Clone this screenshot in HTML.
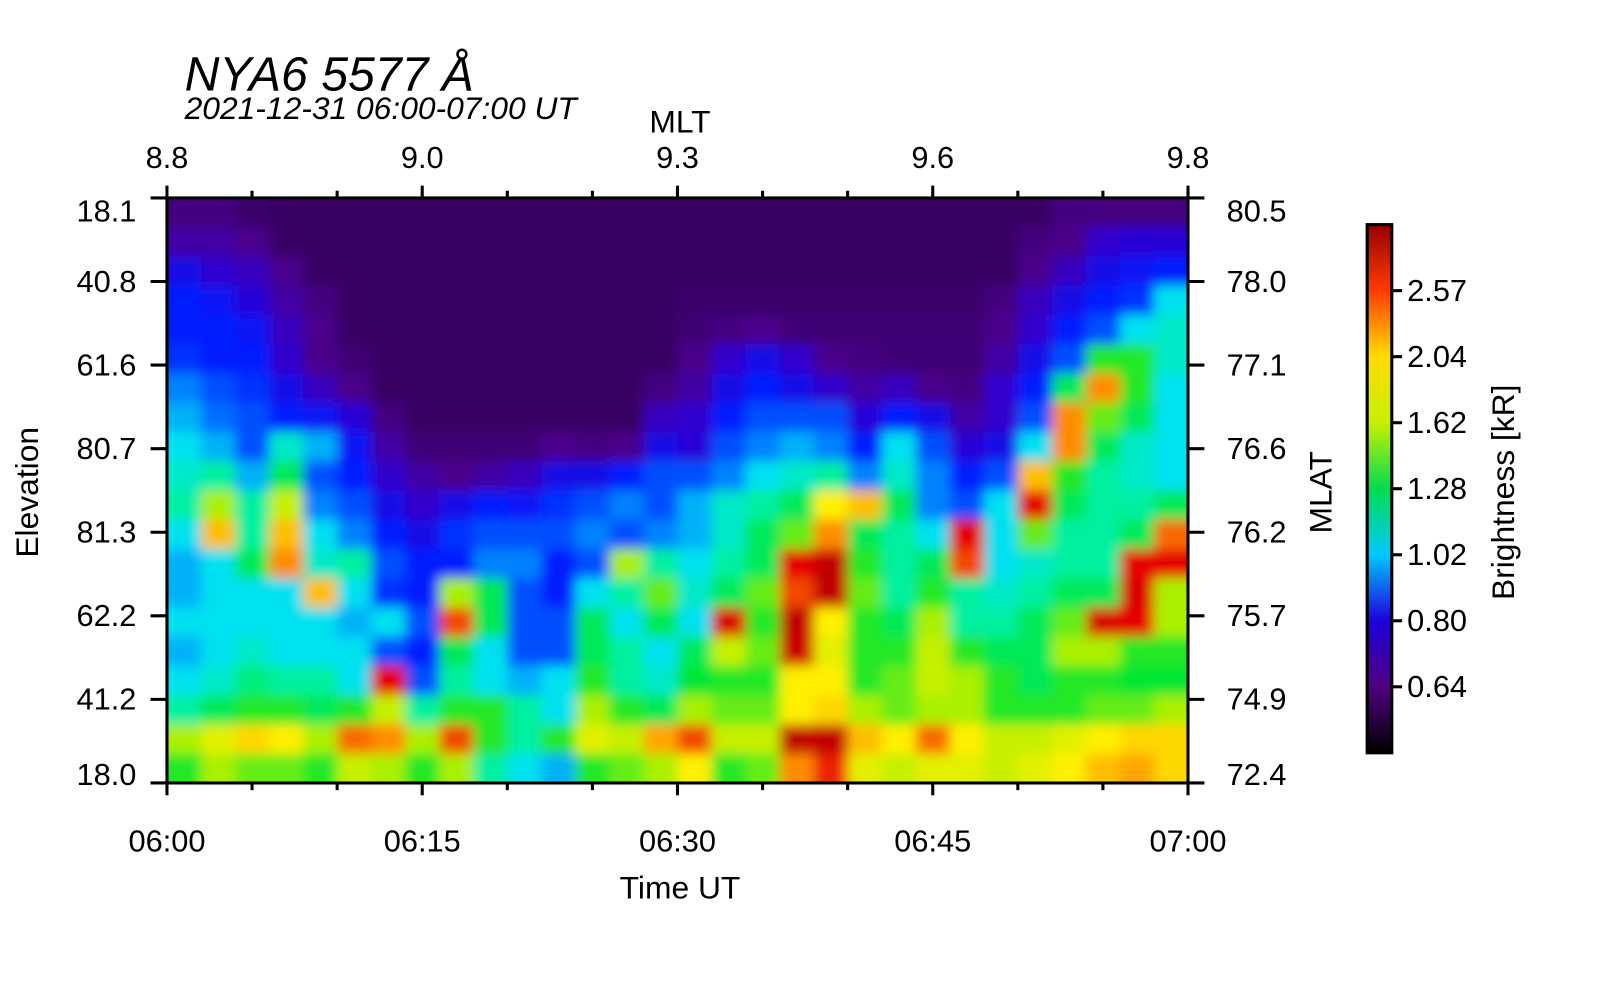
<!DOCTYPE html>
<html><head><meta charset="utf-8"><style>
body{margin:0;background:#fff;width:1600px;height:1000px;overflow:hidden}
svg text{font-family:"Liberation Sans",sans-serif;fill:#000}
</style></head><body>
<svg id="chart" width="1600" height="1000" xmlns="http://www.w3.org/2000/svg">
<defs>
<clipPath id="pc"><rect x="162.8" y="193" width="995.5" height="570.4"/></clipPath>
<filter id="bl" x="-5%" y="-5%" width="110%" height="110%"><feGaussianBlur stdDeviation="6"/></filter>
<linearGradient id="cbg" x1="0" y1="1" x2="0" y2="0">
<stop offset="0" stop-color="#000"/><stop offset="0.125" stop-color="#500080"/><stop offset="0.25" stop-color="#1e00dc"/><stop offset="0.375" stop-color="#00c8ff"/><stop offset="0.5" stop-color="#00dc50"/><stop offset="0.625" stop-color="#c8f000"/><stop offset="0.75" stop-color="#ffdc00"/><stop offset="0.875" stop-color="#ff3c00"/><stop offset="1" stop-color="#960000"/>
</linearGradient>
</defs>
<g transform="scale(1.02564)">
<text x="180" y="88" font-size="47" font-style="italic">NYA6 5577 Å</text>
<text x="180" y="116" font-size="31" font-style="italic">2021-12-31 06:00-07:00 UT</text>
<text x="663" y="129" font-size="31" text-anchor="middle">MLT</text>
<text x="663" y="876" font-size="31" text-anchor="middle">Time UT</text>
<text transform="translate(37,480) rotate(-90)" font-size="31" text-anchor="middle">Elevation</text>
<text transform="translate(1298,480) rotate(-90)" font-size="31" text-anchor="middle">MLAT</text>
<text transform="translate(1476,480) rotate(-90)" font-size="31" text-anchor="middle">Brightness [kR]</text>
<g id="heat" clip-path="url(#pc)"><g id="cells" filter="url(#bl)"></g></g>
<rect x="162.8" y="193" width="995.5" height="570.4" fill="none" stroke="#000" stroke-width="3"/>
<g id="axes"></g>
<rect x="1333" y="219" width="24" height="515" fill="url(#cbg)" stroke="#000" stroke-width="3"/>
<g id="cbticks"></g>
</g>
</svg>
<script>
const timeLabels=["06:00","06:15","06:30","06:45","07:00"];
const mltLabels=["8.8","9.0","9.3","9.6","9.8"];
const elevLabels=["18.1","40.8","61.6","80.7","81.3","62.2","41.2","18.0"];
const mlatLabels=["80.5","78.0","77.1","76.6","76.2","75.7","74.9","72.4"];
const cbTicks=[2.57,2.04,1.62,1.28,1.02,0.80,0.64];
const cbBounds=[0.45,0.64,0.80,1.02,1.28,1.62,2.04,2.57,3.1];
const cmapVals=[0.5,0.55,0.62,0.7,0.8,0.9,1.0,1.1,1.25,1.5,1.8,2.2,2.6,3.0];
const cmapCols=[[25,0,40],[55,0,100],[75,0,140],[50,0,205],[0,30,255],[0,130,255],[0,225,240],[0,240,160],[0,230,50],[170,240,0],[255,240,0],[255,140,0],[230,0,0],[180,0,0]];
const row0=[0.6,0.6,0.56,0.55,0.55,0.55,0.55,0.55,0.55,0.55,0.55,0.55,0.55,0.55,0.55,0.55,0.55,0.55,0.55,0.55,0.55,0.55,0.55,0.55,0.55,0.55,0.6,0.6,0.6,0.6];
const row1=[0.65,0.65,0.62,0.55,0.55,0.55,0.55,0.55,0.55,0.55,0.55,0.55,0.55,0.55,0.55,0.55,0.55,0.55,0.55,0.55,0.55,0.55,0.55,0.55,0.55,0.6,0.62,0.7,0.72,0.72];
const row2=[0.75,0.7,0.68,0.62,0.55,0.55,0.55,0.55,0.55,0.55,0.55,0.55,0.55,0.55,0.55,0.55,0.55,0.55,0.55,0.55,0.55,0.55,0.55,0.55,0.55,0.62,0.68,0.75,0.78,0.8];
const row3=[0.8,0.78,0.72,0.65,0.6,0.55,0.55,0.55,0.55,0.55,0.55,0.55,0.55,0.55,0.55,0.56,0.56,0.56,0.56,0.56,0.56,0.56,0.56,0.56,0.6,0.68,0.75,0.8,0.82,1.0];
const row4=[0.8,0.8,0.78,0.68,0.62,0.55,0.55,0.55,0.55,0.55,0.55,0.55,0.55,0.55,0.55,0.58,0.6,0.62,0.58,0.58,0.58,0.58,0.58,0.58,0.62,0.7,0.8,0.85,1.0,1.05];
const row5=[0.82,0.8,0.8,0.7,0.62,0.58,0.55,0.55,0.55,0.55,0.55,0.55,0.55,0.55,0.55,0.62,0.7,0.75,0.7,0.62,0.6,0.58,0.58,0.58,0.65,0.75,0.85,1.3,1.3,1.05];
const row6=[0.9,0.85,0.82,0.75,0.68,0.62,0.55,0.55,0.55,0.55,0.55,0.55,0.55,0.55,0.6,0.65,0.75,0.8,0.75,0.7,0.65,0.68,0.62,0.6,0.7,0.8,1.2,2.2,1.3,1.0];
const row7=[0.95,0.88,0.85,0.8,0.78,0.72,0.6,0.55,0.55,0.55,0.55,0.55,0.55,0.55,0.68,0.7,0.8,0.85,0.85,0.85,0.72,0.8,0.75,0.65,0.7,0.85,2.2,1.4,1.2,1.0];
const row8=[1.0,0.95,0.85,1.05,0.95,0.78,0.65,0.58,0.58,0.58,0.58,0.62,0.6,0.62,0.75,0.72,0.85,0.9,0.95,0.9,0.8,1.0,0.85,0.72,0.75,1.0,2.2,1.2,1.05,1.0];
const row9=[1.05,1.1,0.95,1.2,0.85,0.8,0.7,0.65,0.62,0.65,0.68,0.75,0.75,0.8,0.85,0.85,0.9,1.0,1.05,1.1,0.9,1.05,0.9,0.8,0.85,2.0,1.3,1.1,1.05,1.0];
const row10=[1.1,1.5,1.1,1.6,0.9,0.85,0.75,0.7,0.75,0.8,0.78,0.82,0.85,0.9,0.85,0.95,1.05,1.1,1.2,1.8,2.0,1.2,0.9,0.85,1.0,2.6,1.2,1.1,1.1,1.2];
const row11=[1.0,2.0,1.1,2.0,1.0,0.9,0.8,0.75,0.82,0.85,0.85,0.85,0.9,0.85,0.9,0.95,1.05,1.2,1.4,2.2,1.2,1.1,1.0,2.6,1.0,1.4,1.1,1.1,1.2,2.3];
const row12=[0.95,1.0,1.2,2.2,1.05,1.1,0.85,0.8,0.8,0.9,0.9,0.8,0.85,1.5,1.1,1.0,1.1,1.2,2.6,2.9,1.3,1.1,1.2,2.4,1.0,1.05,1.1,1.1,2.6,2.6];
const row13=[0.95,1.0,1.0,1.0,2.0,1.0,0.82,0.8,1.5,1.2,0.85,0.8,1.0,1.1,1.4,1.05,1.2,1.4,2.4,2.9,1.4,1.1,1.3,1.1,1.05,1.1,1.2,1.2,2.7,1.5];
const row14=[1.0,1.0,1.0,1.0,1.0,0.95,1.0,0.85,2.4,1.2,0.85,0.85,1.2,1.0,1.2,1.0,2.7,1.3,2.9,1.8,1.3,1.2,1.5,1.1,1.1,1.2,1.4,2.7,2.6,1.5];
const row15=[0.95,1.0,1.05,1.0,1.0,1.0,0.85,0.8,1.2,1.0,0.85,0.85,1.2,1.1,1.0,1.2,1.6,1.4,2.8,1.7,1.3,1.3,1.6,1.3,1.2,1.2,1.5,1.5,1.3,1.3];
const row16=[1.0,1.05,1.15,1.1,1.1,1.0,2.6,0.85,1.1,1.0,0.95,1.0,1.3,1.1,1.05,1.25,1.3,1.3,1.8,1.8,1.3,1.4,1.6,1.5,1.3,1.2,1.3,1.3,1.25,1.25];
const row17=[1.1,1.2,1.3,1.3,1.2,1.3,1.6,1.1,1.3,1.3,1.1,1.0,1.5,1.3,1.2,1.5,1.4,1.4,1.8,1.9,1.5,1.4,1.5,1.5,1.3,1.3,1.3,1.4,1.4,1.5];
const row18=[1.5,1.7,1.9,1.8,1.5,2.3,2.2,1.5,2.4,1.3,1.1,1.3,1.7,1.6,2.1,2.4,1.6,1.6,2.9,2.9,2.0,1.8,2.3,1.8,1.6,1.6,1.7,1.8,1.9,1.9];
const row19=[1.3,1.5,1.4,1.4,1.3,1.6,1.5,1.3,1.5,1.1,1.0,0.95,1.3,1.4,1.5,1.8,1.3,1.4,2.2,2.5,1.7,1.6,1.7,1.7,1.6,1.7,1.8,2.0,2.1,1.9];
const grid=[row0,row1,row2,row3,row4,row5,row6,row7,row8,row9,row10,row11,row12,row13,row14,row15,row16,row17,row18,row19];
const NS="http://www.w3.org/2000/svg";
const X0=162.8,X1=1158.3,Y0=193,Y1=763.4;
const nCols=grid[0].length,nRows=grid.length;
function xCell(c){return X0+(X1-X0)*c/nCols;}
function yCell(r){return Y0+(Y1-Y0)*r/nRows;}
function xTime(i){return X0+(X1-X0)*i/(timeLabels.length-1);}
function yTick(i){return Y0+(Y1-Y0)*i/(elevLabels.length-1);}
function yLab(i){const y=yTick(i);return i==0?y+13:(i==elevLabels.length-1?y-8:y);}
function cbY(v){let i=0;while(i<cbBounds.length-2&&v>cbBounds[i+1])i++;const f=(v-cbBounds[i])/(cbBounds[i+1]-cbBounds[i]);return 734-515*(i+f)/(cbBounds.length-1);}
function color(v){v=Math.max(cmapVals[0],Math.min(cmapVals[cmapVals.length-1],v));let i=0;while(i<cmapVals.length-2&&v>cmapVals[i+1])i++;const f=(v-cmapVals[i])/(cmapVals[i+1]-cmapVals[i]);const a=cmapCols[i],b=cmapCols[i+1];return "rgb("+a.map((x,k)=>Math.round(x+(b[k]-x)*f)).join(",")+")";}
function mk(t,at,par){const e=document.createElementNS(NS,t);for(const k in at)e.setAttribute(k,at[k]);par.appendChild(e);return e;}
const cells=document.getElementById("cells");
for(let r=0;r<nRows;r++)for(let c=0;c<nCols;c++){
 const x=xCell(c)-(c==0?20:0),y=yCell(r)-(r==0?20:0);
 const w=xCell(c+1)-x+1+(c==nCols-1?20:0),h=yCell(r+1)-y+1+(r==nRows-1?20:0);
 const e=mk("rect",{x:x,y:y,width:w,height:h,fill:color(grid[r][c])},cells);
 
 
}
const ax=document.getElementById("axes");
timeLabels.forEach((t,i)=>{const x=xTime(i);
 mk("line",{x1:x,y1:Y1,x2:x,y2:Y1+12,stroke:"#000","stroke-width":3},ax);
 mk("line",{x1:x,y1:Y0,x2:x,y2:Y0-12,stroke:"#000","stroke-width":3},ax);
 const e=mk("text",{x:x,y:830,"font-size":30,"text-anchor":"middle"},ax);e.textContent=t;
 
 
 const m=mk("text",{x:x,y:164,"font-size":30,"text-anchor":"middle"},ax);m.textContent=mltLabels[i];
 
 
 if(i<timeLabels.length-1)for(let k=1;k<3;k++){const xm=x+(xTime(i+1)-x)*k/3;
  mk("line",{x1:xm,y1:Y1,x2:xm,y2:Y1+7,stroke:"#000","stroke-width":3},ax);
  mk("line",{x1:xm,y1:Y0,x2:xm,y2:Y0-7,stroke:"#000","stroke-width":3},ax);}
});
elevLabels.forEach((t,i)=>{const y=yTick(i),yl=yLab(i);
 mk("line",{x1:X0-16,y1:y,x2:X0,y2:y,stroke:"#000","stroke-width":3},ax);
 mk("line",{x1:X1,y1:y,x2:X1+16,y2:y,stroke:"#000","stroke-width":3},ax);
 const e=mk("text",{x:133,y:yl+10,"font-size":30,"text-anchor":"end"},ax);e.textContent=t;
 
 
 const m=mk("text",{x:1196,y:yl+10,"font-size":30},ax);m.textContent=mlatLabels[i];
 
 
});
const cb=document.getElementById("cbticks");
cbTicks.forEach(v=>{const y=cbY(v);
 mk("line",{x1:1357,y1:y,x2:1367,y2:y,stroke:"#000","stroke-width":3},cb);
 const e=mk("text",{x:1372,y:y+10,"font-size":30},cb);e.textContent=v.toFixed(2);
 
 
});
</script>
</body></html>
